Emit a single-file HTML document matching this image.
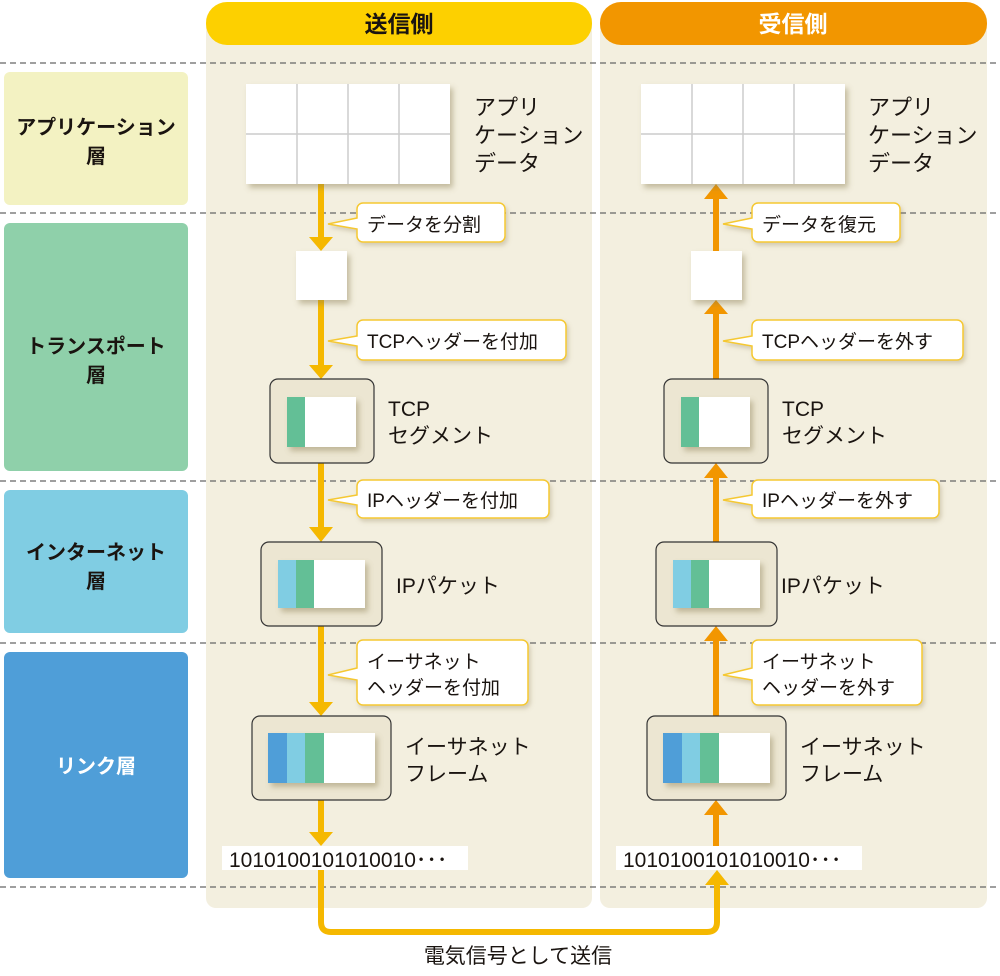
<!DOCTYPE html>
<html><head><meta charset="utf-8"><style>
body{margin:0;background:#fff}
svg text{font-family:"Liberation Sans","Noto Sans CJK JP",sans-serif;fill:#1a1410}
</style></head><body>
<svg width="1000" height="971" viewBox="0 0 1000 971" xmlns="http://www.w3.org/2000/svg">
<defs>
<filter id="sh" x="-20%" y="-20%" width="150%" height="150%"><feDropShadow dx="3" dy="4" stdDeviation="3" flood-color="#8a7a50" flood-opacity="0.45"/></filter>
<filter id="sh2" x="-20%" y="-20%" width="150%" height="150%"><feDropShadow dx="2" dy="3" stdDeviation="2" flood-color="#8a7a50" flood-opacity="0.3"/></filter>
</defs>
<rect x="4" y="72" width="184" height="133" rx="6" fill="#f3f2c2"/>
<rect x="4" y="223" width="184" height="248" rx="6" fill="#8fd0aa"/>
<rect x="4" y="490" width="184" height="143" rx="6" fill="#80cde3"/>
<rect x="4" y="652" width="184" height="226" rx="6" fill="#4f9ed8"/>
<g font-size="20" font-weight="bold" text-anchor="middle">
<text x="96" y="134">アプリケーション</text><text x="96" y="163">層</text>
<text x="96" y="353">トランスポート</text><text x="96" y="382">層</text>
<text x="96" y="559">インターネット</text><text x="96" y="588">層</text>
<text x="96" y="773" style="fill:#fff">リンク層</text>
</g>
<rect x="206" y="10" width="386" height="898" rx="10" fill="#f3efdf"/>
<rect x="600" y="10" width="387" height="898" rx="10" fill="#f3efdf"/>
<rect x="206" y="2" width="386" height="43" rx="21" fill="#fdd000"/>
<rect x="600" y="2" width="387" height="43" rx="21" fill="#f29600"/>
<text x="399" y="32" font-size="23" font-weight="bold" text-anchor="middle">送信側</text>
<text x="793" y="32" font-size="23" font-weight="bold" text-anchor="middle" style="fill:#fff">受信側</text>
<g stroke="#666" stroke-width="1.2" stroke-dasharray="6,4">
<line x1="0" y1="63" x2="1000" y2="63"/><line x1="0" y1="213" x2="1000" y2="213"/>
<line x1="0" y1="481" x2="1000" y2="481"/><line x1="0" y1="643" x2="1000" y2="643"/>
<line x1="0" y1="887" x2="1000" y2="887"/>
</g>
<path d="M321 870 V922 Q321 932 331 932 H707 Q717 932 717 922 V885" fill="none" stroke="#f5b800" stroke-width="6"/>
<polygon points="705,885 729,885 717,870" fill="#f5b800"/>
<text x="518" y="963" font-size="21" text-anchor="middle">電気信号として送信</text>

<g stroke="#f5b800" stroke-width="6" fill="none">
<line x1="321" y1="184" x2="321" y2="238"/><line x1="321" y1="300" x2="321" y2="366"/>
<line x1="321" y1="463" x2="321" y2="528"/><line x1="321" y1="626" x2="321" y2="703"/>
<line x1="321" y1="800" x2="321" y2="833"/>
</g>
<g fill="#f5b800">
<polygon points="309,237 333,237 321,251"/><polygon points="309,365 333,365 321,379"/>
<polygon points="309,527 333,527 321,542"/><polygon points="309,702 333,702 321,716"/>
<polygon points="309,832 333,832 321,846"/>
</g>
<g stroke="#f29600" stroke-width="6" fill="none">
<line x1="716" y1="198" x2="716" y2="251"/><line x1="716" y1="313" x2="716" y2="379"/>
<line x1="716" y1="477" x2="716" y2="542"/><line x1="716" y1="640" x2="716" y2="716"/>
<line x1="716" y1="814" x2="716" y2="846"/>
</g>
<g fill="#f29600">
<polygon points="704,199 728,199 716,184"/><polygon points="704,314 728,314 716,300"/>
<polygon points="704,478 728,478 716,463"/><polygon points="704,641 728,641 716,626"/>
<polygon points="704,815 728,815 716,800"/>
</g>

<g filter="url(#sh)">
<rect x="246" y="84" width="204" height="100" fill="#fff"/>
<rect x="641" y="84" width="204" height="100" fill="#fff"/>
</g>
<g stroke="#ccc" stroke-width="1.5">
<line x1="297" y1="84" x2="297" y2="184"/><line x1="348" y1="84" x2="348" y2="184"/><line x1="399" y1="84" x2="399" y2="184"/><line x1="246" y1="134" x2="450" y2="134"/>
<line x1="692" y1="84" x2="692" y2="184"/><line x1="743" y1="84" x2="743" y2="184"/><line x1="794" y1="84" x2="794" y2="184"/><line x1="641" y1="134" x2="845" y2="134"/>
</g>
<g font-size="22">
<text x="474" y="115">アプリ</text><text x="474" y="143">ケーション</text><text x="474" y="171">データ</text>
<text x="868" y="115">アプリ</text><text x="868" y="143">ケーション</text><text x="868" y="171">データ</text>
</g>
<rect x="296" y="251" width="51" height="49" fill="#fff" filter="url(#sh)"/>
<rect x="691" y="251" width="51" height="49" fill="#fff" filter="url(#sh)"/>

<g fill="#ece6d2" stroke="#333" stroke-width="1.2">
<rect x="270" y="379" width="104" height="84" rx="8"/><rect x="664" y="379" width="104" height="84" rx="8"/>
<rect x="261" y="542" width="121" height="84" rx="8"/><rect x="656" y="542" width="121" height="84" rx="8"/>
<rect x="252" y="716" width="139" height="84" rx="8"/><rect x="647" y="716" width="139" height="84" rx="8"/>
</g>
<g filter="url(#sh)">
<rect x="287" y="397" width="69" height="50" fill="#fff"/><rect x="681" y="397" width="69" height="50" fill="#fff"/>
<rect x="278" y="560" width="87" height="48" fill="#fff"/><rect x="673" y="560" width="87" height="48" fill="#fff"/>
<rect x="268" y="733" width="107" height="50" fill="#fff"/><rect x="663" y="733" width="107" height="50" fill="#fff"/>
</g>
<rect x="287" y="397" width="18" height="50" fill="#63bf96"/><rect x="681" y="397" width="18" height="50" fill="#63bf96"/>
<rect x="278" y="560" width="18" height="48" fill="#80cde3"/><rect x="296" y="560" width="18" height="48" fill="#63bf96"/>
<rect x="673" y="560" width="18" height="48" fill="#80cde3"/><rect x="691" y="560" width="18" height="48" fill="#63bf96"/>
<rect x="268" y="733" width="19" height="50" fill="#4f9ed8"/><rect x="287" y="733" width="18" height="50" fill="#80cde3"/><rect x="305" y="733" width="19" height="50" fill="#63bf96"/>
<rect x="663" y="733" width="19" height="50" fill="#4f9ed8"/><rect x="682" y="733" width="18" height="50" fill="#80cde3"/><rect x="700" y="733" width="19" height="50" fill="#63bf96"/>
<g font-size="21">
<text x="388" y="416">TCP</text><text x="388" y="443">セグメント</text>
<text x="782" y="416">TCP</text><text x="782" y="443">セグメント</text>
<text x="396" y="593">IPパケット</text><text x="781" y="593">IPパケット</text>
<text x="405" y="754">イーサネット</text><text x="405" y="781">フレーム</text>
<text x="800" y="754">イーサネット</text><text x="800" y="781">フレーム</text>
</g>
<rect x="222" y="846" width="246" height="24" fill="#fff"/>
<rect x="616" y="846" width="246" height="24" fill="#fff"/>
<text x="229" y="867" font-size="21">1010100101010010･･･</text>
<text x="623" y="867" font-size="21">1010100101010010･･･</text>

<g fill="#fff" stroke="#f5c830" stroke-width="1.5" filter="url(#sh2)">
<path d="M363 203 H499 a6 6 0 0 1 6 6 V236 a6 6 0 0 1 -6 6 H363 a6 6 0 0 1 -6 -6 V229 L328 224 L357 218 V209 a6 6 0 0 1 6 -6Z"/>
<path d="M363 320 H560 a6 6 0 0 1 6 6 V354 a6 6 0 0 1 -6 6 H363 a6 6 0 0 1 -6 -6 V346 L328 341 L357 336 V326 a6 6 0 0 1 6 -6Z"/>
<path d="M363 480 H543 a6 6 0 0 1 6 6 V512 a6 6 0 0 1 -6 6 H363 a6 6 0 0 1 -6 -6 V505 L328 500 L357 495 V486 a6 6 0 0 1 6 -6Z"/>
<path d="M363 640 H522 a6 6 0 0 1 6 6 V699 a6 6 0 0 1 -6 6 H363 a6 6 0 0 1 -6 -6 V680 L328 675 L357 668 V646 a6 6 0 0 1 6 -6Z"/>
<path d="M758 203 H894 a6 6 0 0 1 6 6 V236 a6 6 0 0 1 -6 6 H758 a6 6 0 0 1 -6 -6 V229 L723 224 L752 218 V209 a6 6 0 0 1 6 -6Z"/>
<path d="M758 320 H957 a6 6 0 0 1 6 6 V354 a6 6 0 0 1 -6 6 H758 a6 6 0 0 1 -6 -6 V346 L723 341 L752 336 V326 a6 6 0 0 1 6 -6Z"/>
<path d="M758 480 H933 a6 6 0 0 1 6 6 V512 a6 6 0 0 1 -6 6 H758 a6 6 0 0 1 -6 -6 V505 L723 500 L752 495 V486 a6 6 0 0 1 6 -6Z"/>
<path d="M758 640 H916 a6 6 0 0 1 6 6 V699 a6 6 0 0 1 -6 6 H758 a6 6 0 0 1 -6 -6 V680 L723 675 L752 668 V646 a6 6 0 0 1 6 -6Z"/>
</g>
<g font-size="19">
<text x="367" y="231">データを分割</text>
<text x="367" y="348">TCPヘッダーを付加</text>
<text x="367" y="507">IPヘッダーを付加</text>
<text x="367" y="668">イーサネット</text><text x="367" y="694">ヘッダーを付加</text>
<text x="762" y="231">データを復元</text>
<text x="762" y="348">TCPヘッダーを外す</text>
<text x="762" y="507">IPヘッダーを外す</text>
<text x="762" y="668">イーサネット</text><text x="762" y="694">ヘッダーを外す</text>
</g>
</svg>
</body></html>
